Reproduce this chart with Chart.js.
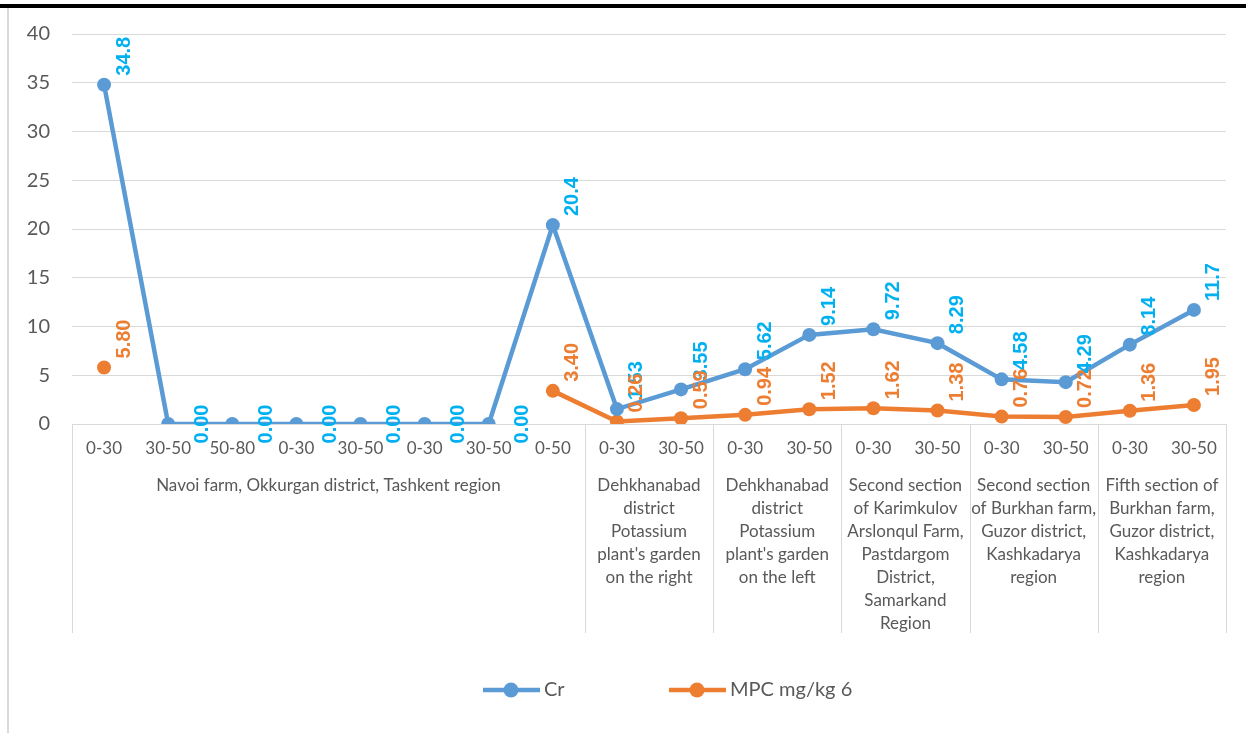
<!DOCTYPE html>
<html>
<head>
<meta charset="utf-8">
<script src="https://cdn.jsdelivr.net/npm/chart.js@4/dist/chart.umd.min.js"></script>
<style>
    html, body { margin: 0; padding: 0; background: #fff; }
    .wrap { position: relative; width: 1246px; height: 733px; }
    .topbar { position: absolute; left: 0; top: 4px; width: 1246px; height: 4px; background: #000; }
    .leftline { position: absolute; left: 7px; top: 8px; width: 2px; height: 725px; background: #d9d9d9; }
    canvas { position: absolute; left: 0; top: 0; }
</style>
</head>
<body>
<div class="wrap">
    <div class="topbar"></div>
    <div class="leftline"></div>
    <canvas id="myChart" width="1246" height="733"></canvas>
</div>
<script>
    // soil depth for each sample (cm)
    const depths = ["0-30", "30-50", "50-80", "0-30", "30-50", "0-30", "30-50", "0-50",
        "0-30", "30-50", "0-30", "30-50", "0-30", "30-50", "0-30", "30-50", "0-30", "30-50"];
    // sampling sites, and how many depths each one covers
    const siteNames = [
        ["Navoi farm, Okkurgan district, Tashkent region"],
        ["Dehkhanabad", "district", "Potassium", "plant's garden", "on the right"],
        ["Dehkhanabad", "district", "Potassium", "plant's garden", "on the left"],
        ["Second section", "of Karimkulov", "Arslonqul Farm,", "Pastdargom", "District,", "Samarkand", "Region"],
        ["Second section", "of Burkhan farm,", "Guzor district,", "Kashkadarya", "region"],
        ["Fifth section of", "Burkhan farm,", "Guzor district,", "Kashkadarya", "region"]
    ];
    const siteSizes = [8, 2, 2, 2, 2, 2];
    const cr = [34.8, 0, 0, 0, 0, 0, 0, 20.4, 1.53, 3.55, 5.62, 9.14, 9.72, 8.29, 4.58, 4.29, 8.14, 11.7];
    const mpc = [5.80, null, null, null, null, null, null, 3.40, 0.26, 0.59, 0.94, 1.52, 1.62, 1.38, 0.76, 0.72, 1.36, 1.95];
    const yTicks = [0, 5, 10, 15, 20, 25, 30, 35, 40];

    const blue = "#5B9BD5";
    const orange = "#ED7D31";
    const textGrey = "#595959";
    const gridGrey = "#D9D9D9";

    // rotated value labels, like Excel's data labels
    const valueLabels = {
        id: "valueLabels",
        afterDatasetsDraw(chart) {
            const ctx = chart.ctx;
            ctx.save();
            ctx.font = "bold 20px 'Liberation Sans'";
            chart.data.datasets.forEach((ds, di) => {
                const meta = chart.getDatasetMeta(di);
                meta.data.forEach((pt, i) => {
                    const v = ds.data[i];
                    if (v === null) return;
                    const txt = ds.labelFmt(v);
                    ctx.fillStyle = ds.labelColor;
                    ctx.save();
                    if (v === 0) {
                        ctx.translate(pt.x + 34, pt.y);
                        ctx.rotate(-Math.PI / 2);
                        ctx.textAlign = "center";
                    } else {
                        ctx.translate(pt.x + 20, pt.y - 9);
                        ctx.rotate(-Math.PI / 2);
                        ctx.textAlign = "left";
                    }
                    ctx.textBaseline = "middle";
                    ctx.fillText(txt, 0, 0);
                    ctx.restore();
                });
            });
            ctx.restore();
        }
    };

    // second level of the category axis plus the legend
    const siteAxis = {
        id: "siteAxis",
        afterDraw(chart) {
            const ctx = chart.ctx;
            const x = chart.scales.x;
            const area = chart.chartArea;
            const half = (x.getPixelForTick(1) - x.getPixelForTick(0)) / 2;
            ctx.save();
            ctx.strokeStyle = gridGrey;
            ctx.lineWidth = 1;
            ctx.fillStyle = textGrey;
            ctx.font = "17px Lato";
            ctx.textAlign = "center";
            ctx.textBaseline = "middle";
            let start = 0;
            const edges = [];
            siteSizes.forEach((n, g) => {
                const left = x.getPixelForTick(start) - half;
                const right = x.getPixelForTick(start + n - 1) + half;
                edges.push(left);
                if (g === siteSizes.length - 1) edges.push(right);
                const cx = (left + right) / 2;
                siteNames[g].forEach((line, k) => {
                    ctx.fillText(line, cx, 486 + k * 23);
                });
                start += n;
            });
            edges.forEach(e => {
                const px = Math.round(e) + 0.5;
                ctx.beginPath();
                ctx.moveTo(px, area.bottom);
                ctx.lineTo(px, 633);
                ctx.stroke();
            });

            // legend
            const items = [
                { label: "Cr", color: blue, x0: 483 },
                { label: "MPC mg/kg 6", color: orange, x0: 669 }
            ];
            const ly = 690;
            items.forEach(it => {
                ctx.strokeStyle = it.color;
                ctx.lineWidth = 4.5;
                ctx.beginPath();
                ctx.moveTo(it.x0, ly);
                ctx.lineTo(it.x0 + 57, ly);
                ctx.stroke();
                ctx.fillStyle = it.color;
                ctx.beginPath();
                ctx.arc(it.x0 + 28, ly, 7.5, 0, Math.PI * 2);
                ctx.fill();
                ctx.fillStyle = textGrey;
                ctx.font = "20px Lato";
                ctx.textAlign = "left";
                ctx.fillText(it.label, it.x0 + 61, ly);
            });
            ctx.restore();
        }
    };

    const ctx = document.getElementById("myChart").getContext("2d");
    new Chart(ctx, {
        type: "line",
        data: {
            labels: depths,
            datasets: [
                {
                    label: "Cr",
                    data: cr,
                    borderColor: blue,
                    backgroundColor: blue,
                    borderWidth: 4.5,
                    pointRadius: 7,
                    pointBorderWidth: 0,
                    labelColor: "#00B0F0",
                    labelFmt: v => v.toPrecision(3)
                },
                {
                    label: "MPC mg/kg 6",
                    data: mpc,
                    borderColor: orange,
                    backgroundColor: orange,
                    borderWidth: 4.5,
                    pointRadius: 7,
                    pointBorderWidth: 0,
                    labelColor: orange,
                    labelFmt: v => v.toFixed(2)
                }
            ]
        },
        options: {
            responsive: false,
            animation: false,
            spanGaps: false,
            layout: { padding: { top: 34, right: 20, left: 0, bottom: 0 } },
            plugins: {
                legend: { display: false },
                tooltip: { enabled: false }
            },
            scales: {
                x: {
                    offset: true,
                    grid: { display: false, drawTicks: false },
                    border: { display: false },
                    ticks: {
                        autoSkip: false,
                        maxRotation: 0,
                        padding: 14,
                        color: textGrey,
                        font: { family: "Lato", size: 17 }
                    },
                    afterFit(scale) { scale.height = 309; }
                },
                y: {
                    min: 0,
                    max: 40,
                    afterBuildTicks(scale) { scale.ticks = yTicks.map(v => ({ value: v })); },
                    grid: { color: gridGrey, lineWidth: 1, drawTicks: false },
                    border: { display: false },
                    ticks: {
                        padding: 22,
                        color: textGrey,
                        font: { family: "Lato", size: 20 }
                    },
                    afterFit(scale) { scale.width = 72; }
                }
            }
        },
        plugins: [valueLabels, siteAxis]
    });
</script>
</body>
</html>
